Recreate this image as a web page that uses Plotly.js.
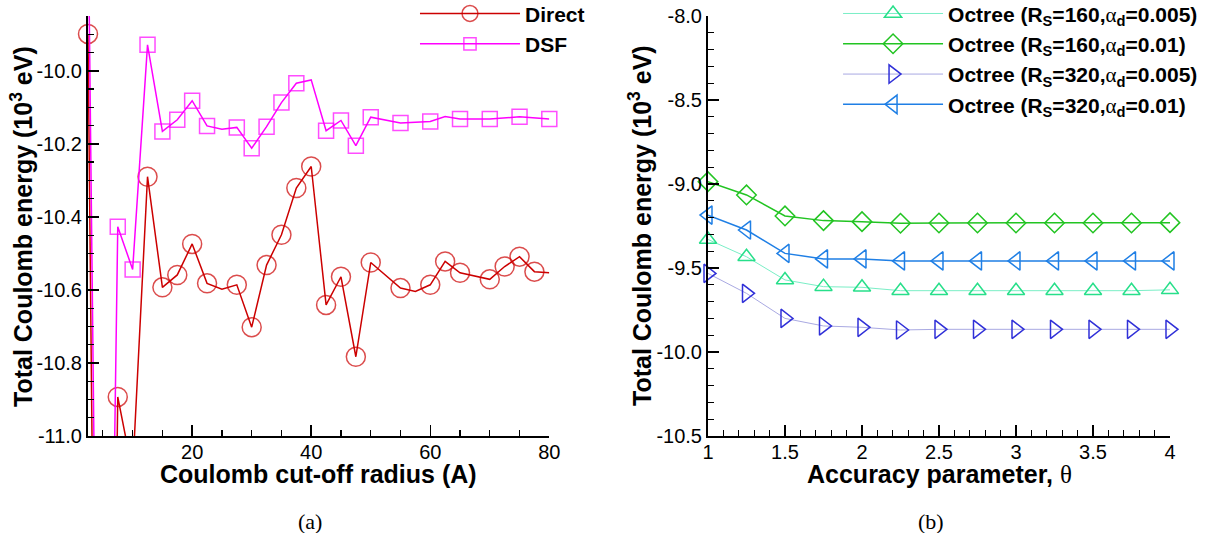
<!DOCTYPE html>
<html><head><meta charset="utf-8">
<script src="https://cdn.plot.ly/plotly-3.0.1.min.js"></script>
<style>html,body{margin:0;padding:0;background:#fff}</style>
</head><body><div id="chart" style="width:1213px;height:533px"></div>
<script>
// ---- panel (a) data ----
const directRadius = [2.5,5,7.5,10,12.5,15,17.5,20,22.5,25,27.5,30,32.5,35,37.5,40,42.5,45,47.5,50,55,57.5,60,62.5,65,70,72.5,75,77.5,80];
const directEnergy = [-9.899,-14.0,-10.893,-11.1,-10.29,-10.593,-10.559,-10.474,-10.582,-10.598,-10.586,-10.702,-10.532,-10.449,-10.321,-10.262,-10.641,-10.564,-10.783,-10.525,-10.595,-10.604,-10.586,-10.522,-10.553,-10.571,-10.536,-10.509,-10.55,-10.553];
const directHasSymbol = [1,0,1,0,1,1,1,1,1,0,1,1,1,1,1,1,1,1,1,1,1,0,1,1,1,1,1,1,1,0];

const dsfRadius = [2.5,5,7.5,10,12.5,15,17.5,20,22.5,25,27.5,30,32.5,35,37.5,40,42.5,45,47.5,50,55,60,62.5,65,70,75,80];
const dsfEnergy = [-9.53,-13.25,-10.427,-10.544,-9.929,-10.166,-10.134,-10.082,-10.151,-10.16,-10.155,-10.212,-10.153,-10.087,-10.034,-10.025,-10.164,-10.136,-10.205,-10.127,-10.143,-10.139,-10.125,-10.132,-10.132,-10.126,-10.132];
const dsfHasSymbol = [0,0,1,1,1,1,1,1,1,0,1,1,1,1,1,0,1,1,1,1,1,1,0,1,1,1,1];

const radiusTickVals = [20,40,60,80];
const radiusTickText = ['20','40','60','80'];
const energyTickValsA = [-11.0,-10.8,-10.6,-10.4,-10.2,-10.0];
const energyTickTextA = ['-11.0','-10.8','-10.6','-10.4','-10.2','-10.0'];

// ---- panel (b) data ----
const theta = [1,1.25,1.5,1.75,2,2.25,2.5,2.75,3,3.25,3.5,3.75,4];
const octR160a005 = [-9.33,-9.433,-9.571,-9.611,-9.615,-9.635,-9.635,-9.635,-9.635,-9.635,-9.635,-9.635,-9.63];
const octR160a01  = [-8.986,-9.065,-9.19,-9.218,-9.224,-9.234,-9.232,-9.232,-9.232,-9.232,-9.232,-9.232,-9.23];
const octR320a005 = [-9.532,-9.651,-9.8,-9.845,-9.853,-9.869,-9.865,-9.865,-9.865,-9.865,-9.865,-9.865,-9.865];
const octR320a01  = [-9.185,-9.274,-9.413,-9.446,-9.446,-9.458,-9.458,-9.458,-9.458,-9.458,-9.458,-9.458,-9.458];

const thetaTickVals = [1,1.5,2,2.5,3,3.5,4];
const thetaTickText = ['1','1.5','2','2.5','3','3.5','4'];
const energyTickValsB = [-10.5,-10.0,-9.5,-9.0,-8.5,-8.0];
const energyTickTextB = ['-10.5','-10.0','-9.5','-9.0','-8.5','-8.0'];

const ALPHA = '<span style="font-family:\'Liberation Serif\';font-weight:normal">α</span>';
const THETA = '<span style="font-family:\'Liberation Serif\';font-weight:normal">θ</span>';
const legendNames = [
  'Octree (R<sub>S</sub>=160,' + ALPHA + '<sub>d</sub>=0.005)',
  'Octree (R<sub>S</sub>=160,' + ALPHA + '<sub>d</sub>=0.01)',
  'Octree (R<sub>S</sub>=320,' + ALPHA + '<sub>d</sub>=0.005)',
  'Octree (R<sub>S</sub>=320,' + ALPHA + '<sub>d</sub>=0.01)'
];
const yTitle = 'Total Coulomb energy (10<sup>3</sup> eV)';
const xTitleA = 'Coulomb cut-off radius (A)';
const xTitleB = 'Accuracy parameter, ' + THETA;

const SANS = 'Liberation Sans, Arial, Helvetica, sans-serif';
const SERIF = 'Liberation Serif, Times New Roman, serif';

const traces = [
  {x: directRadius, y: directEnergy, name: 'Direct', mode: 'lines+markers', xaxis: 'x', yaxis: 'y', legend: 'legend',
   cliponaxis: false,
   line: {color: '#cc0000', width: 1.5},
   marker: {symbol: 'circle-open', size: directHasSymbol.map(s => s ? 19 : 0), color: '#cc0000', line: {color: '#cc0000', width: 1.5}}},
  {x: dsfRadius, y: dsfEnergy, name: 'DSF', mode: 'lines+markers', xaxis: 'x', yaxis: 'y', legend: 'legend',
   cliponaxis: false,
   line: {color: '#ff00ff', width: 1.5},
   marker: {symbol: 'square-open', size: dsfHasSymbol.map(s => s ? 15 : 0), color: '#ff00ff', line: {color: '#ff00ff', width: 1.5}}},
  {x: theta, y: octR160a005, name: legendNames[0], mode: 'lines+markers', xaxis: 'x2', yaxis: 'y2', legend: 'legend2', cliponaxis: false,
   line: {color: '#7aeec6', width: 1},
   marker: {symbol: 'triangle-up-open', size: 15, color: '#27df8a', line: {color: '#27df8a', width: 1.5}}},
  {x: theta, y: octR160a01, name: legendNames[1], mode: 'lines+markers', xaxis: 'x2', yaxis: 'y2', legend: 'legend2', cliponaxis: false,
   line: {color: '#22c422', width: 1.5},
   marker: {symbol: 'diamond-open', size: 15, color: '#22c422', line: {color: '#22c422', width: 1.5}}},
  {x: theta, y: octR320a005, name: legendNames[2], mode: 'lines+markers', xaxis: 'x2', yaxis: 'y2', legend: 'legend2', cliponaxis: false,
   line: {color: '#a9a9e2', width: 1},
   marker: {symbol: 'triangle-right-open', size: 16, color: '#3030d8', line: {color: '#3030d8', width: 1.5}}},
  {x: theta, y: octR320a01, name: legendNames[3], mode: 'lines+markers', xaxis: 'x2', yaxis: 'y2', legend: 'legend2', cliponaxis: false,
   line: {color: '#1f7fe5', width: 1.5},
   marker: {symbol: 'triangle-left-open', size: 16, color: '#1f7fe5', line: {color: '#1f7fe5', width: 1.5}}}
];

function axisBase() {
  return {
    showline: true, linewidth: 2, linecolor: '#000', mirror: false,
    showgrid: false, zeroline: false, automargin: false,
    ticks: 'inside', ticklen: 11, tickwidth: 1.5, tickcolor: '#000',
    tickfont: {family: SANS, size: 20, color: '#000'},
    tickmode: 'array'
  };
}
const titleFont = {family: SANS, size: 25, weight: 'bold', color: '#000'};
const legendFont = {family: SANS, size: 21, weight: 'bold', color: '#000'};

function titleNote(text, x, y, angle) {
  return {text: text, xref: 'paper', yref: 'paper', x: x, y: y, xanchor: 'center', yanchor: 'middle',
          showarrow: false, textangle: angle, font: titleFont};
}

const layout = {
  width: 1213, height: 533,
  margin: {l: 88, r: 43, t: 16, b: 97, autoexpand: false},
  paper_bgcolor: '#ffffff', plot_bgcolor: 'rgba(0,0,0,0)',
  font: {family: SANS, color: '#000'},
  showlegend: true,
  xaxis: Object.assign(axisBase(), {
    domain: [0, 0.42634], range: [2.5, 80], anchor: 'y', ticklabelstandoff: -3,
    tickvals: radiusTickVals, ticktext: radiusTickText,
    minor: {tickmode: 'linear', tick0: 0, dtick: 5, ticks: 'inside', ticklen: 6, tickwidth: 1.2, tickcolor: '#000', showgrid: false}
  }),
  yaxis: Object.assign(axisBase(), {
    domain: [0, 1], range: [-11.0, -9.85], anchor: 'x',
    tickvals: energyTickValsA, ticktext: energyTickTextA,
    minor: {tickmode: 'linear', tick0: -11, dtick: 0.05, ticks: 'inside', ticklen: 6, tickwidth: 1.2, tickcolor: '#000', showgrid: false}
  }),
  xaxis2: Object.assign(axisBase(), {
    domain: [0.57301, 1], range: [1, 4], anchor: 'y2', ticklabelstandoff: -3,
    tickvals: thetaTickVals, ticktext: thetaTickText,
    minor: {tickmode: 'linear', tick0: 1, dtick: 0.1, ticks: 'inside', ticklen: 6, tickwidth: 1.2, tickcolor: '#000', showgrid: false}
  }),
  yaxis2: Object.assign(axisBase(), {
    domain: [0, 1], range: [-10.5, -8.0], anchor: 'x2',
    tickvals: energyTickValsB, ticktext: energyTickTextB,
    minor: {tickmode: 'linear', tick0: -10.5, dtick: 0.1, ticks: 'inside', ticklen: 6, tickwidth: 1.2, tickcolor: '#000', showgrid: false}
  }),
  legend: {
    x: 0.3022, xanchor: 'left', y: 1.054, yanchor: 'top',
    bgcolor: 'rgba(0,0,0,0)', borderwidth: 0,
    font: legendFont, tracegroupgap: 0, itemwidth: 100
  },
  legend2: {
    x: 0.6932, xanchor: 'left', y: 1.054, yanchor: 'top',
    bgcolor: 'rgba(0,0,0,0)', borderwidth: 0,
    font: legendFont, tracegroupgap: 0, itemwidth: 100
  },
  annotations: [
    titleNote(yTitle, -0.0610, 0.5, -90),
    titleNote(yTitle, 0.5102, 0.5, -90),
    titleNote(xTitleA, 0.2130, -0.0905, 0),
    titleNote(xTitleB, 0.7874, -0.0905, 0),
    {text: '(a)', xref: 'paper', yref: 'paper', x: 0.2052, y: -0.2024, xanchor: 'center', yanchor: 'middle', showarrow: false,
     font: {family: SERIF, size: 22, color: '#000'}},
    {text: '(b)', xref: 'paper', yref: 'paper', x: 0.7791, y: -0.2024, xanchor: 'center', yanchor: 'middle', showarrow: false,
     font: {family: SERIF, size: 22, color: '#000'}}
  ]
};

Plotly.newPlot('chart', traces, layout, {displayModeBar: false, staticPlot: true});
</script>
</body></html>
